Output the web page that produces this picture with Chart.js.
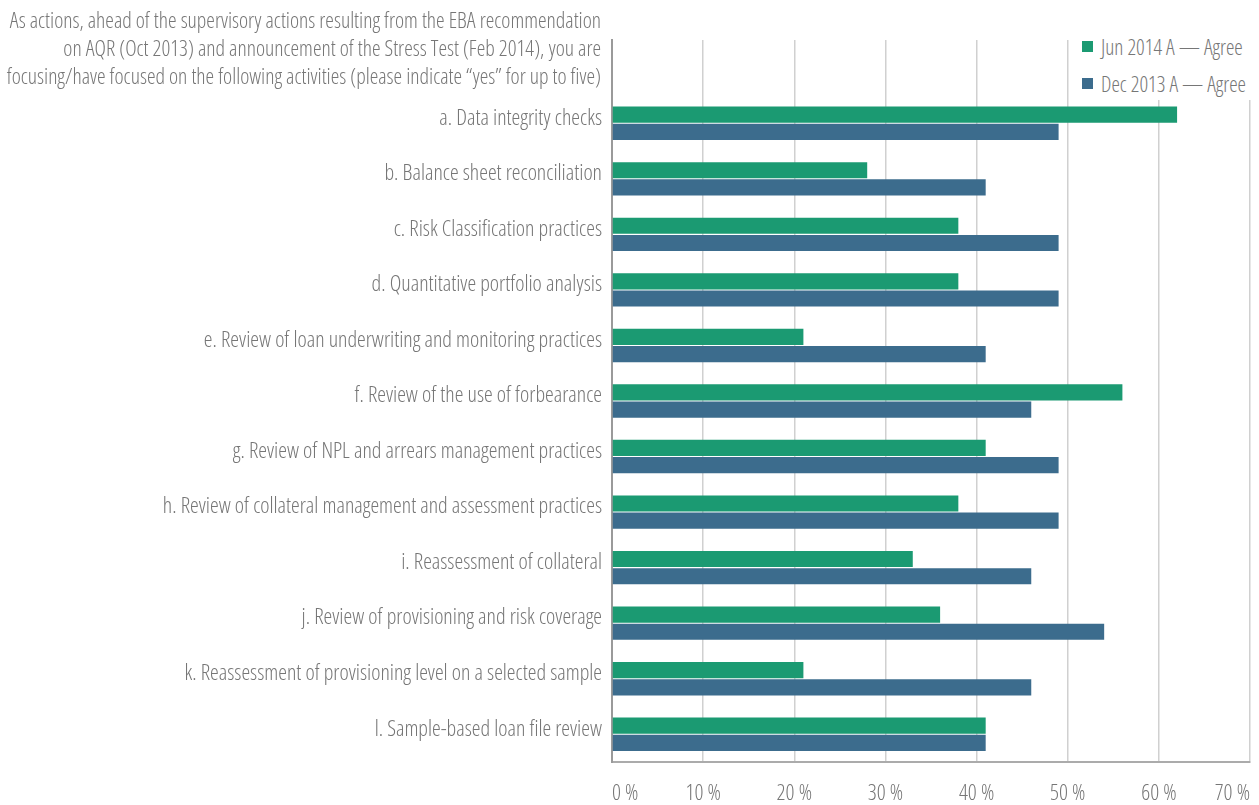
<!DOCTYPE html>
<html>
<head>
<meta charset="utf-8">
<script src="https://cdn.jsdelivr.net/npm/chart.js@4/dist/chart.umd.min.js"></script>
<style>
  html, body { margin: 0; padding: 0; background: #fff; }
  #wrap { position: relative; width: 1259px; height: 805px; }
  #legend {
    position: absolute; top: 28px; left: 1075px; right: 0; height: 72px;
    background: #fff; font-family: "Open Sans", sans-serif; font-weight: 300;
    font-stretch: condensed; font-size: 21.3px; color: #767676;
  }
  #legend div { display: flex; align-items: center; height: 37px; padding-left: 7px; white-space: nowrap; }
  #legend span.box { width: 11px; height: 11px; margin-right: 8px; display: inline-block; }
</style>
</head>
<body>
<div id="wrap">
  <canvas id="chart" width="1259" height="805"></canvas>
  <div id="legend"></div>
</div>
<script>
const FAMILY = '"Open Sans", sans-serif';
const WEIGHT = 'condensed 300';   // light condensed face, passed through Chart.js font string
const TEXT_COLOR = '#767676';

const question = [
  'As actions, ahead of the supervisory actions resulting from the EBA recommendation',
  'on AQR (Oct 2013) and announcement of the Stress Test (Feb 2014), you are',
  'focusing/have focused on the following activities (please indicate \u201cyes\u201d for up to five)'
];

// first slot stays empty, the question text sits there
const activities = [
  '',
  'a. Data integrity checks',
  'b. Balance sheet reconciliation',
  'c. Risk Classification practices',
  'd. Quantitative portfolio analysis',
  'e. Review of loan underwriting and monitoring practices',
  'f. Review of the use of forbearance',
  'g. Review of NPL and arrears management practices',
  'h. Review of collateral management and assessment practices',
  'i. Reassessment of collateral',
  'j. Review of provisioning and risk coverage',
  'k. Reassessment of provisioning level on a selected sample',
  'l. Sample-based loan file review'
];

const jun2014 = [null, 62, 28, 38, 38, 21, 56, 41, 38, 33, 36, 21, 41];
const dec2013 = [null, 49, 41, 49, 49, 41, 46, 49, 49, 46, 54, 46, 41];

const seriesNames = ['Jun 2014 A \u2014 Agree', 'Dec 2013 A \u2014 Agree'];
const seriesColors = ['#1b9a72', '#3c6c8d'];

const questionPlugin = {
  id: 'question',
  afterDraw(chart) {
    const ctx = chart.ctx;
    const x = chart.chartArea.left - 11;
    ctx.save();
    ctx.font = WEIGHT + ' 21.7px ' + FAMILY;
    ctx.fillStyle = TEXT_COLOR;
    ctx.textAlign = 'right';
    ctx.textBaseline = 'middle';
    question.forEach((line, i) => {
      ctx.fillText(line, x, 22 + i * 28);
    });
    ctx.restore();
  }
};

const ctx = document.getElementById('chart').getContext('2d');
const chart = new Chart(ctx, {
  type: 'bar',
  data: {
    labels: activities,
    datasets: [
      { label: seriesNames[0], data: jun2014, backgroundColor: seriesColors[0] },
      { label: seriesNames[1], data: dec2013, backgroundColor: seriesColors[1] }
    ]
  },
  options: {
    indexAxis: 'y',
    responsive: false,
    animation: false,
    categoryPercentage: 0.62,
    barPercentage: 0.94,
    layout: { padding: { top: 40, right: 9, bottom: -21, left: 0 } },
    plugins: {
      legend: { display: false },
      tooltip: { enabled: false }
    },
    scales: {
      x: {
        min: 0,
        max: 70,
        // tick padding is only meant to push the labels down, not in from the sides
        afterFit(scale) { scale.paddingLeft = 0; scale.paddingRight = 0; },
        ticks: {
          stepSize: 10,
          padding: 21,
          align: 'inner',
          color: TEXT_COLOR,
          font: { family: FAMILY, weight: WEIGHT, size: 22, lineHeight: 1 },
          callback: v => v + ' %'
        },
        grid: { color: '#d0d0d0', lineWidth: 1.5, drawTicks: false },
        border: { display: true, color: '#ababab', width: 2 }
      },
      y: {
        afterFit(scale) { scale.width = 612; },
        ticks: {
          padding: 10,
          color: TEXT_COLOR,
          font: { family: FAMILY, weight: WEIGHT, size: 22, lineHeight: 0.45 },
          // trailing empty line lifts the label a little above the bar pair
          callback(value) { return [this.getLabelForValue(value), '']; }
        },
        grid: { display: false, drawTicks: false },
        border: { display: true, color: '#9a9a9a', width: 2 }
      }
    }
  },
  plugins: [questionPlugin]
});

// legend built from the same series arrays
const legendEl = document.getElementById('legend');
seriesNames.forEach((name, i) => {
  const row = document.createElement('div');
  row.innerHTML = `<span class="box" style="background:${seriesColors[i]}"></span>${name}`;
  legendEl.appendChild(row);
});
</script>
</body>
</html>
